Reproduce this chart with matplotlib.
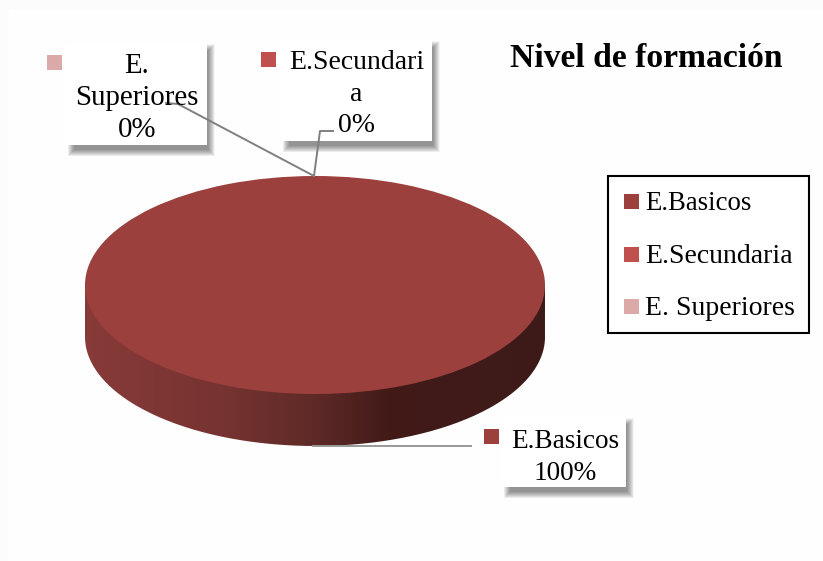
import numpy as np
import matplotlib
matplotlib.use('Agg')
import matplotlib.pyplot as plt
from matplotlib.patches import Rectangle, PathPatch
from matplotlib.path import Path

categorias = ['E.Basicos', 'E.Secundaria', 'E. Superiores']
valores = [100, 0, 0]
colores = ['#9c403e', '#c0504d', '#dba9a8']
titulo = 'Nivel de formación'

plt.rcParams['font.family'] = ['Liberation Serif', 'DejaVu Serif']

W, H = 823, 561
fig = plt.figure(figsize=(W / 100, H / 100), dpi=100, facecolor='#fcfcfc')
# eje de pixeles sobre toda la figura
bg = fig.add_axes([0, 0, 1, 1])
bg.set_xlim(0, W)
bg.set_ylim(H, 0)
bg.axis('off')
# fondo casi blanco del grafico
bg.add_patch(Rectangle((9, 9), W, H, fc='#fefefe', ec='none', zorder=0))

# geometria del pastel
cx, cy, rx, ry, prof = 315, 285, 230, 109, 52

# lado del cilindro con degradado
t = np.linspace(0, np.pi, 200)
xs = cx + rx * np.cos(t)
ys = cy + prof + ry * np.sin(t)
verts = [(cx + rx, cy)] + list(zip(xs, ys)) + [(cx - rx, cy)]
clip = PathPatch(Path(verts), fc='none', ec='none', transform=bg.transData)
bg.add_patch(clip)
stops_x = [0, 0.3, 0.5, 0.6, 0.66, 1]
stops_r = [0x88, 0x76, 0x5e, 0x4c, 0x42, 0x3d]
stops_g = [0x3b, 0x33, 0x2a, 0x20, 0x1a, 0x1a]
stops_b = [0x39, 0x31, 0x27, 0x1e, 0x18, 0x18]
u = np.linspace(0, 1, 460)
grad = np.dstack([np.interp(u, stops_x, stops_r), np.interp(u, stops_x, stops_g),
                  np.interp(u, stops_x, stops_b)]) / 255
im = bg.imshow(grad, extent=(cx - rx, cx + rx, cy + prof + ry, cy), aspect='auto', zorder=1)
im.set_clip_path(clip)
bg.set_xlim(0, W)
bg.set_ylim(H, 0)

# cara superior: pie real
ax = fig.add_axes([(cx - rx) / W, 1 - (cy + ry) / H, 2 * rx / W, 2 * ry / H])
ax.pie(valores, colors=colores, startangle=90, counterclock=False, radius=1,
       wedgeprops={'linewidth': 0})
ax.set_aspect('auto')
ax.set_xlim(-1, 1)
ax.set_ylim(-1, 1)
ax.axis('off')

# capa de etiquetas
top = fig.add_axes([0, 0, 1, 1])
top.set_xlim(0, W)
top.set_ylim(H, 0)
top.axis('off')
top.patch.set_alpha(0)


def caja(x0, y0, x1, y1):
    # sombra difusa hecha con rectangulos superpuestos
    for k in range(14):
        d = k * 0.5
        top.add_patch(Rectangle((x0 + 1 + d, y0 + 1 + d),
                                x1 - x0 + 7 - 2 * d, y1 - y0 + 10 - 2 * d,
                                fc='#000000', ec='none', alpha=0.036, zorder=2))
    top.add_patch(Rectangle((x0, y0), x1 - x0, y1 - y0, fc='white', ec='none', zorder=3))


caja(67, 43, 207, 145)
caja(282, 40, 432, 141)
caja(503, 417, 626, 487)

# lineas guia
top.plot([314, 320, 333], [176, 131, 131], color='#7f7f7f', lw=1.4, zorder=4)
top.plot([314, 178, 166], [176, 104, 103], color='#7f7f7f', lw=1.4, zorder=4)
top.plot([313, 471], [446, 446], color='#999999', lw=1.4, zorder=2)

etiq = [
    ('E.\nSuperiores\n%d%%' % valores[2], 137, 98, 2, 20.8),
    ('E.Secundari\na\n%d%%' % valores[1], 356.5, 94, 1, 20),
    ('%s\n%d%%' % (categorias[0], valores[0]), 565, 457.5, 0, 19.6),
]
marc = [(54.5, 62.5), (268.5, 59.5), (491.5, 436.5)]
for (txt, x, y, i, fs), (mx, my) in zip(etiq, marc):
    top.text(x, y, txt, ha='center', va='center', fontsize=fs, color='black',
             linespacing=32 / (fs * 100 / 72 * 0.852), zorder=5)
    top.add_patch(Rectangle((mx - 7.5, my - 7.5), 15, 15, fc=colores[i], ec='none', zorder=5))

# titulo
top.text(646.5, 58, titulo, ha='center', va='center', fontsize=24.2, fontweight='bold',
         color='black', zorder=5)

# leyenda manual
top.add_patch(Rectangle((608, 175.5), 201, 157, fc='white', ec='black', lw=1.5, zorder=3))
for nombre, color, y, fs in zip(categorias, colores, [201.5, 254.5, 306.5], [19.3, 20, 20]):
    top.add_patch(Rectangle((624, y - 7.5), 15, 15, fc=color, ec='none', zorder=5))
    top.text(645, y + 1.5, nombre, ha='left', va='center', fontsize=fs, color='black', zorder=5)

fig.savefig('out.png', dpi=100, facecolor=fig.get_facecolor())
